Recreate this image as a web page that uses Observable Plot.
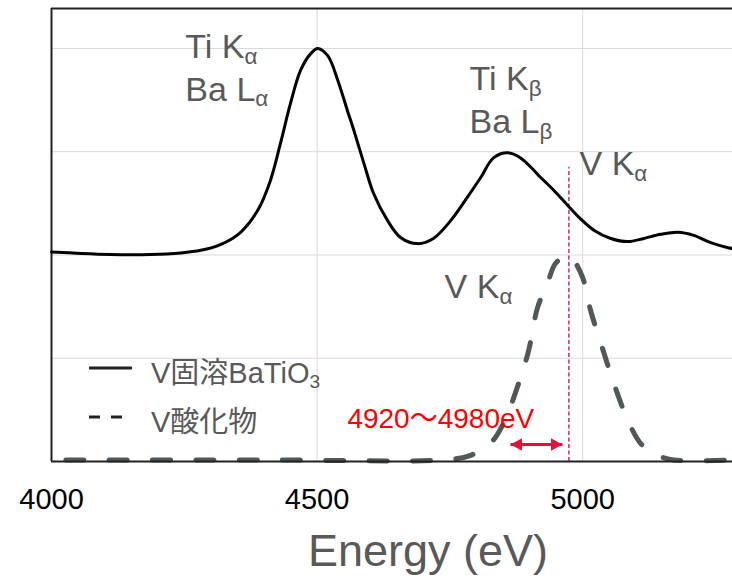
<!DOCTYPE html>
<html><head><meta charset="utf-8">
<script src="https://cdn.jsdelivr.net/npm/d3@7"></script>
<script src="https://cdn.jsdelivr.net/npm/@observablehq/plot@0.6"></script>
<style>
body{margin:0;background:#fff;}
#wrap{position:relative;width:732px;height:576px;font-family:"Liberation Sans",Arial,"Noto Sans CJK JP",sans-serif;}
#wrap svg{display:block;}
</style></head><body><div id="wrap"></div>
<script>
// ---- data ----
const solidEnergy    = [4000, 4055, 4111, 4186, 4243, 4281, 4318, 4356, 4388, 4412, 4431, 4450, 4469, 4488, 4501, 4520, 4539, 4557, 4569, 4588, 4606, 4633, 4657, 4689, 4719, 4751, 4783, 4808, 4832, 4859, 4883, 4908, 4921, 4945, 4972, 4996, 5021, 5053, 5085, 5115, 5147, 5179, 5209, 5241, 5282];
const solidIntensity = [2.03, 2.015, 2.005, 2.005, 2.02, 2.045, 2.10, 2.22, 2.43, 2.72, 3.08, 3.47, 3.79, 3.95, 4.00, 3.93, 3.69, 3.40, 3.21, 2.89, 2.60, 2.33, 2.17, 2.11, 2.16, 2.33, 2.56, 2.75, 2.94, 2.99, 2.94, 2.82, 2.75, 2.63, 2.48, 2.35, 2.24, 2.16, 2.13, 2.16, 2.20, 2.22, 2.19, 2.12, 2.06];
const oxideEnergy    = [4000, 4400, 4751, 4789, 4827, 4851, 4877, 4898, 4915, 4934, 4949, 4970, 4981, 5000, 5015, 5040, 5059, 5085, 5110, 5141, 5171, 5282];
const oxideIntensity = [0.015, 0.015, 0.02, 0.06, 0.18, 0.37, 0.72, 1.07, 1.49, 1.73, 1.92, 1.99, 1.96, 1.78, 1.46, 1.05, 0.75, 0.40, 0.17, 0.06, 0.015, 0.015];
const xTicks  = [4000, 4500, 5000];
const xGrid   = [4500, 5000];
const yGrid   = [1, 2, 3, 4];
const xDomain = [4000, 5282];
const yDomain = [0, 4.387];
const peakLabels = ["Ti K_α", "Ba L_α", "Ti K_β", "Ba L_β", "V K_α", "V K_α"];
const peakLabelEnergy    = [4252, 4252, 4787, 4787, 4994, 4740];
const peakLabelIntensity = [3.903, 3.496, 3.593, 3.177, 2.770, 1.579];
const rangeLabel = ["4920～4980eV"];
const rangeLabelEnergy = [4557];
const rangeLabelIntensity = [0.329];
const markerEnergy = [4974];
const markerTop = [2.85];
const arrowFrom = [4864];
const arrowTo = [4962];
const arrowIntensity = [0.165];
const legendLabels = ["V固溶BaTiO_3", "V酸化物"];
const legendDash = [null, "11,11"];
const xLabel = "Energy (eV)";

// ---- tables ----
const solid = solidEnergy.map((e, i) => ({e, v: solidIntensity[i]}));
const oxide = oxideEnergy.map((e, i) => ({e, v: oxideIntensity[i]}));
const peaks = peakLabels.map((t, i) => ({t, e: peakLabelEnergy[i], v: peakLabelIntensity[i]}));
const range = rangeLabel.map((t, i) => ({t, e: rangeLabelEnergy[i], v: rangeLabelIntensity[i]}));
const marker = markerEnergy.map((e, i) => ({e, top: markerTop[i]}));
const arrows = arrowFrom.map((a, i) => ({a, b: arrowTo[i], v: arrowIntensity[i]}));

const FONT = '"Liberation Sans", Arial, "Noto Sans CJK JP", sans-serif';
const GRAY = "#595959";

const chart = Plot.plot({
  width: 732, height: 576,
  marginLeft: 51, marginRight: 0, marginTop: 8, marginBottom: 115,
  style: {fontFamily: FONT, fontSize: "29px", background: "white", color: "#000", overflow: "visible"},
  x: {domain: xDomain, ticks: xTicks, tickSize: 0, tickPadding: 27, tickFormat: d => String(d), label: null},
  y: {domain: yDomain, axis: null},
  marks: [
    Plot.ruleX(xGrid, {stroke: "#d9d9d9", strokeWidth: 1}),
    Plot.ruleY(yGrid, {stroke: "#d9d9d9", strokeWidth: 1}),
    Plot.ruleY([yDomain[1]], {stroke: "#222", strokeWidth: 2}),
    Plot.ruleX([xDomain[0]], {stroke: "#222", strokeWidth: 2}),
    Plot.ruleX(marker, {x: "e", y1: 0, y2: "top", stroke: "#d6246a", strokeWidth: 1.5, strokeDasharray: "4,2.5"}),
    Plot.line(oxide, {x: "e", y: "v", curve: "catmull-rom", stroke: "#4f5957", strokeWidth: 5, strokeLinecap: "round", strokeDasharray: "18,25.3", strokeDashoffset: 28.8}),
    Plot.ruleY([yDomain[0]], {stroke: "#222", strokeWidth: 2}),
    Plot.line(solid, {x: "e", y: "v", curve: "catmull-rom", stroke: "#000", strokeWidth: 3}),
    Plot.link(arrows, {x1: "a", x2: "b", y1: "v", y2: "v", stroke: "#e4123a", strokeWidth: 3}),
    Plot.text(peaks, {x: "e", y: "v", text: "t", textAnchor: "start", lineAnchor: "bottom", fill: GRAY, fontSize: 34, fontFamily: FONT}),
    Plot.text(range, {x: "e", y: "v", text: "t", textAnchor: "start", lineAnchor: "bottom", fill: "#ff0000", fontSize: 28, fontFamily: FONT}),
    Plot.text([xLabel], {frameAnchor: "bottom", dx: 36, dy: 104, lineAnchor: "bottom", fill: GRAY, fontSize: 45, fontFamily: FONT})
  ]
});

const NS = "http://www.w3.org/2000/svg";
function subscript(node) {
  const parts = node.textContent.split("_");
  node.textContent = parts[0];
  const t = document.createElementNS(NS, "tspan");
  t.setAttribute("font-size", "0.66em");
  t.setAttribute("dy", "0.25em");
  t.textContent = parts[1];
  node.appendChild(t);
}
function applySubscripts(root) {
  root.querySelectorAll("text").forEach(tx => {
    if (!tx.textContent.includes("_")) return;
    const spans = tx.querySelectorAll("tspan");
    if (spans.length) spans.forEach(s => { if (s.textContent.includes("_")) subscript(s); });
    else subscript(tx);
  });
}
applySubscripts(chart);

// filled double arrow heads on the range arrow
const defs = document.createElementNS(NS, "defs");
defs.innerHTML = '<marker id="tri" viewBox="0 0 12 13" refX="12" refY="6.5" markerWidth="12" markerHeight="13" markerUnits="userSpaceOnUse" orient="auto-start-reverse"><path d="M0,0L12,6.5L0,13Z" fill="#e4123a"/></marker>';
chart.insertBefore(defs, chart.firstChild);
chart.querySelectorAll('g[aria-label="link"] path, g[aria-label="link"] line').forEach(p => {
  p.setAttribute("marker-start", "url(#tri)");
  p.setAttribute("marker-end", "url(#tri)");
});

const wrap = document.getElementById("wrap");
wrap.appendChild(chart);

// legend overlay (inside the plot frame)
const leg = d3.select(wrap).append("svg")
  .attr("width", 732).attr("height", 576)
  .style("position", "absolute").style("left", "0px").style("top", "0px").style("pointer-events", "none");
legendLabels.forEach((lab, i) => {
  const y = 368 + i * 49;
  leg.append("line").attr("x1", 89).attr("x2", i ? 125 : 132).attr("y1", y).attr("y2", y)
    .attr("stroke", "#222").attr("stroke-width", 3)
    .attr("stroke-dasharray", legendDash[i]);
  leg.append("text").attr("x", 151).attr("y", y + 15)
    .attr("fill", GRAY).attr("font-size", 29).attr("font-family", FONT)
    .text(lab);
});
applySubscripts(leg.node());
</script></body></html>
